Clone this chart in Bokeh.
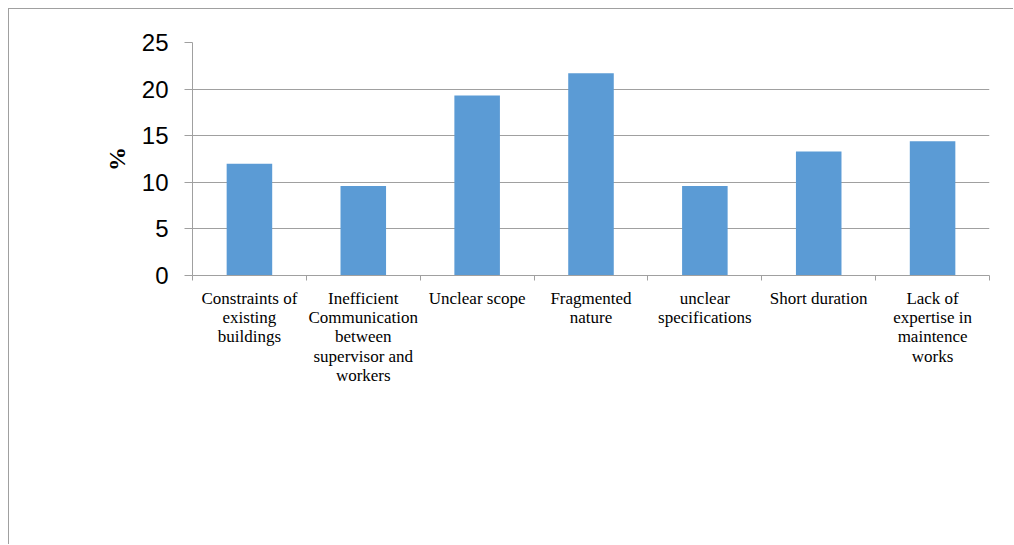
from bokeh.plotting import figure
from bokeh.models import Range1d, FixedTicker, ColumnDataSource
from bokeh.embed import file_html
from bokeh.resources import INLINE

categories = [
    "Constraints of\nexisting\nbuildings",
    "Inefficient\nCommunication\nbetween\nsupervisor and\nworkers",
    "Unclear scope",
    "Fragmented\nnature",
    "unclear\nspecifications",
    "Short duration",
    "Lack of\nexpertise in\nmaintence\nworks",
]
values = [12.0, 9.6, 19.3, 21.7, 9.6, 13.3, 14.4]
y_ticks = [0, 5, 10, 15, 20, 25]

n = len(categories)
xs = [i + 0.5 for i in range(n)]
src = ColumnDataSource(dict(x=xs, top=values))

p = figure(width=1005, height=536, output_backend="svg", toolbar_location=None,
           x_range=Range1d(0, n), y_range=Range1d(0, 25),
           min_border_left=183, min_border_right=25, min_border_top=33, min_border_bottom=270)
p.styles = {"margin-left": "8px", "margin-top": "8px",
            "border-left": "1px solid #a0a0a0", "border-top": "1px solid #a0a0a0"}
p.outline_line_color = None
p.background_fill_color = "white"
p.border_fill_color = "white"

p.vbar(x="x", top="top", width=0.4, bottom=0, source=src, fill_color="#5B9BD5", line_color=None)

# y axis
p.yaxis.ticker = FixedTicker(ticks=y_ticks)
p.yaxis.axis_label = "%"
p.yaxis.axis_label_text_font = "Liberation Serif"
p.yaxis.axis_label_text_font_style = "bold"
p.yaxis.axis_label_text_font_size = "24px"
p.yaxis.axis_label_text_color = "black"
p.yaxis.axis_label_standoff = 9
p.yaxis.major_label_text_font = "Liberation Sans"
p.yaxis.major_label_text_font_size = "24px"
p.yaxis.major_label_text_color = "black"
p.yaxis.major_label_standoff = 16
p.yaxis.major_tick_out = 8
p.yaxis.major_tick_in = 0
p.yaxis.minor_tick_out = 0
p.yaxis.minor_tick_in = 0
p.yaxis.axis_line_color = "#a0a0a0"
p.yaxis.major_tick_line_color = "#a0a0a0"

# x axis
p.xaxis.ticker = FixedTicker(ticks=xs, minor_ticks=list(range(n + 1)))
p.xaxis.major_label_overrides = {x: c for x, c in zip(xs, categories)}
p.xaxis.major_label_text_font = "Liberation Serif"
p.xaxis.major_label_text_font_size = "17px"
p.xaxis.major_label_text_line_height = 1.02
p.xaxis.major_label_text_color = "black"
p.xaxis.major_label_standoff = 8
p.xaxis.major_tick_out = 0
p.xaxis.major_tick_in = 0
p.xaxis.minor_tick_out = 5
p.xaxis.minor_tick_in = 0
p.xaxis.minor_tick_line_color = "#a0a0a0"
p.xaxis.axis_line_color = "#a0a0a0"

p.xgrid.grid_line_color = None
p.ygrid.ticker = FixedTicker(ticks=y_ticks)
p.ygrid.grid_line_color = "#a0a0a0"

open("out.html", "w").write(file_html(p, INLINE))
